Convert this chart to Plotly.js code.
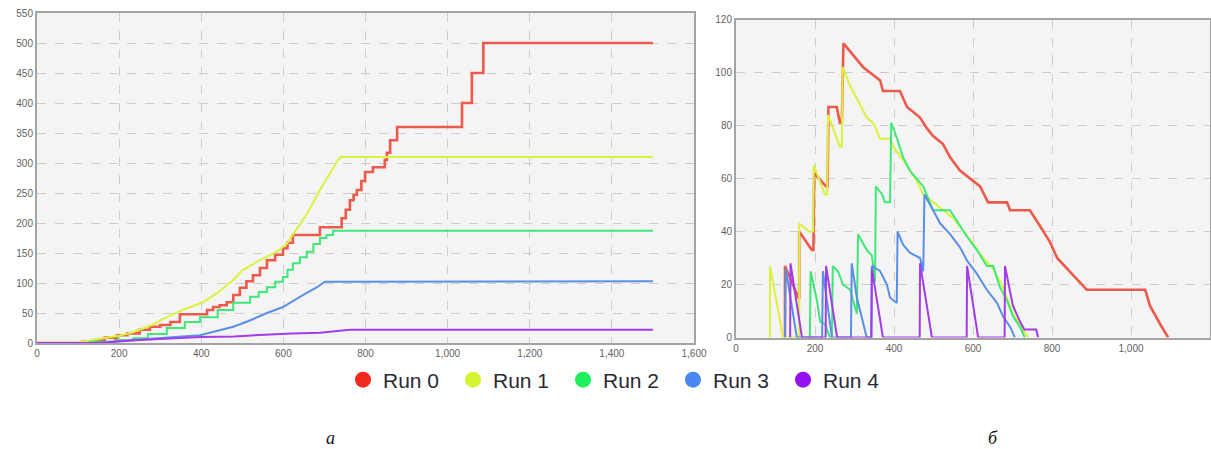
<!DOCTYPE html>
<html>
<head>
<meta charset="utf-8">
<script src="https://cdn.plot.ly/plotly-3.0.1.min.js"></script>
<style>
html,body{margin:0;padding:0;background:#fff;}
#chart{width:1211px;height:449px;}
</style>
</head>
<body>
<div id="chart"></div>
<script>
// ---------- Series names & colours ----------
const runNames = ["Run 0", "Run 1", "Run 2", "Run 3", "Run 4"];
const lineColors = ["#ec5a4c", "#dcf03e", "#3ee878", "#5a8fe6", "#a23ce8"];
const legendColors = ["#f52a1e", "#d6f434", "#1ef05c", "#4a87f2", "#9412f0"];

// ---------- Chart (a): cumulative ----------
const a_run0_x = [0,110,140,165,195,220,250,275,300,325,348,414,429,445,462,478,494,510,526,543,560,580,599,610,623,689,742,752,762,771,779,790,799,818,847,852,860,877,1035,1059,1087,1500];
const a_run0_y = [0,2,5,9,13,16,22,27,30,35,48,55,60,63,68,80,92,103,113,125,138,147,158,167,180,193,208,222,238,247,255,270,285,293,305,317,338,360,400,450,500,500];

const a_run1_x = [0,97,153,200,234,280,316,365,405,438,478,502,543,584,608,623,657,689,714,733,740,1500];
const a_run1_y = [0,0,7,12,18,30,43,58,68,83,105,122,138,152,165,180,215,255,283,305,310,310];

const a_run2_x = [0,130,190,234,270,316,360,397,440,478,519,540,560,580,599,610,623,640,657,673,689,705,721,1500];
const a_run2_y = [0,2,5,8,15,25,35,43,55,67,77,85,93,102,110,122,133,143,152,165,175,180,187,187];

const a_run3_x = [0,140,234,320,397,478,520,560,599,640,682,701,1500];
const a_run3_y = [0,0,5,9,13,27,38,50,60,77,93,102,103];

const a_run4_x = [0,150,250,400,480,591,620,689,762,1500];
const a_run4_y = [0,0,5,10,11,15,16,17,22,22];

// ---------- Chart (б): active count ----------
const b_run0_x = [124,124,158,160,160,192,196,198,228,232,234,255,263,268,272,289,306,322,339,365,372,415,433,466,483,499,524,542,567,592,618,638,686,694,744,770,795,813,838,863,888,1036,1048,1074,1094];
const b_run0_y = [0,27,15,15,40,33,33,62,57,57,87,87,81,81,111,108,105,102,100,97,93,93,87,83,79,76,73,68,63,60,57,51,51,48,48,42,36,30,26,22,18,18,12,5,0];

const b_run1_x = [86,86,119,160,160,185,195,197,225,231,233,263,268,270,289,306,331,347,365,390,398,423,440,458,474,499,534,550,592,626,651,676,701,732,740];
const b_run1_y = [0,27,0,0,43,40,40,65,54,54,84,72,72,102,95,90,83,81,75,75,72,67,63,59,54,51,47,45,37,30,26,19,9,2,0];

const b_run2_x = [187,189,205,213,225,238,243,245,258,271,289,296,306,309,331,344,352,354,370,377,390,393,408,423,440,474,499,542,559,585,610,635,651,668,686,701,719,731];
const b_run2_y = [0,25,14,6,5,0,0,27,25,20,18,14,9,39,33,31,21,57,54,51,51,81,75,68,63,57,48,48,44,38,33,27,27,19,14,8,4,0];

const b_run3_x = [124,126,154,218,220,243,291,293,306,322,331,342,344,365,382,390,407,409,423,440,466,474,477,499,517,542,567,585,610,635,661,676,694,706];
const b_run3_y = [0,26,0,0,25,0,0,28,15,5,0,0,27,25,20,15,13,40,35,32,30,25,54,48,43,39,34,29,24,18,13,8,4,0];

const b_run4_x = [137,138,167,227,228,256,343,344,372,465,466,496,584,585,613,680,681,701,719,730,760,765];
const b_run4_y = [0,28,0,0,27,0,0,26,0,0,28,0,0,27,0,0,27,12,6,3,3,0];

// ---------- Axis ticks ----------
const a_xTicks = [0,200,400,600,800,1000,1200,1400,1600];
const a_yTicks = [0,50,100,150,200,250,300,350,400,450,500,550];
const b_xTicks = [0,200,400,600,800,1000,1200];
const b_yTicks = [0,20,40,60,80,100,120];
const captions = ["а", "б"];

const aX = [a_run0_x, a_run1_x, a_run2_x, a_run3_x, a_run4_x];
const aY = [a_run0_y, a_run1_y, a_run2_y, a_run3_y, a_run4_y];
const bX = [b_run0_x, b_run1_x, b_run2_x, b_run3_x, b_run4_x];
const bY = [b_run0_y, b_run1_y, b_run2_y, b_run3_y, b_run4_y];
const aShapes = ["hv", "linear", "hv", "linear", "linear"];
const widths = [2.6, 2, 2, 2, 2];

const traces = [];
for (let i = 0; i < 5; i++) {
  traces.push({
    x: aX[i], y: aY[i], type: "scatter", mode: "lines",
    line: {color: lineColors[i], width: widths[i], shape: aShapes[i]},
    xaxis: "x", yaxis: "y", showlegend: false, hoverinfo: "skip"
  });
}
for (let i = 0; i < 5; i++) {
  traces.push({
    x: bX[i], y: bY[i], type: "scatter", mode: "lines",
    line: {color: lineColors[i], width: widths[i]},
    xaxis: "x2", yaxis: "y2", showlegend: false, hoverinfo: "skip"
  });
}
for (let i = 0; i < 5; i++) {
  traces.push({
    x: [null], y: [null], type: "scatter", mode: "markers",
    name: runNames[i],
    marker: {color: legendColors[i], size: 22, symbol: "circle"},
    xaxis: "x", yaxis: "y", showlegend: true
  });
}

const W = 1211, H = 449;
const tickFont = {family: "Liberation Sans, Arial, sans-serif", size: 10, color: "#5f5f5f"};
function axisCommon() {
  return {
    showline: true, mirror: true, linecolor: "#a4a4a4", linewidth: 2,
    showgrid: true, gridcolor: "#cdcdcd", griddash: "dash", gridwidth: 1,
    zeroline: false, ticks: "", tickfont: tickFont, tickformat: ",",
    fixedrange: true
  };
}

const layout = {
  width: W, height: H,
  margin: {l: 0, r: 0, t: 0, b: 0},
  paper_bgcolor: "#ffffff",
  plot_bgcolor: "#f4f4f4",
  showlegend: true,
  legend: {
    orientation: "h", x: 343 / W, xanchor: "left", y: (H - 380) / H, yanchor: "middle",
    font: {family: "Liberation Sans, Arial, sans-serif", size: 21, color: "#2a2a35"},
    entrywidth: 65, entrywidthmode: "pixels", itemsizing: "trace",
    bgcolor: "rgba(0,0,0,0)", traceorder: "normal"
  },
  xaxis: Object.assign(axisCommon(), {
    domain: [37 / W, 694 / W], range: [0, 1600], tickvals: a_xTicks, anchor: "y"
  }),
  yaxis: Object.assign(axisCommon(), {
    domain: [(H - 343) / H, (H - 13) / H], range: [0, 550], tickvals: a_yTicks, anchor: "x"
  }),
  xaxis2: Object.assign(axisCommon(), {
    domain: [736 / W, 1210 / W], range: [0, 1200], tickvals: b_xTicks, anchor: "y2"
  }),
  yaxis2: Object.assign(axisCommon(), {
    domain: [(H - 337.5) / H, (H - 19.5) / H], range: [0, 120], tickvals: b_yTicks, anchor: "x2"
  }),
  annotations: [
    {text: captions[0], xref: "paper", yref: "paper", x: 330 / W, y: (H - 438) / H,
     showarrow: false, xanchor: "center", yanchor: "middle",
     font: {family: "Liberation Serif, Times New Roman, serif", size: 18, color: "#111", style: "italic"}},
    {text: captions[1], xref: "paper", yref: "paper", x: 993 / W, y: (H - 438) / H,
     showarrow: false, xanchor: "center", yanchor: "middle",
     font: {family: "Liberation Serif, Times New Roman, serif", size: 18, color: "#111", style: "italic"}}
  ]
};

Plotly.newPlot("chart", traces, layout, {displayModeBar: false, staticPlot: true});
</script>
</body>
</html>
